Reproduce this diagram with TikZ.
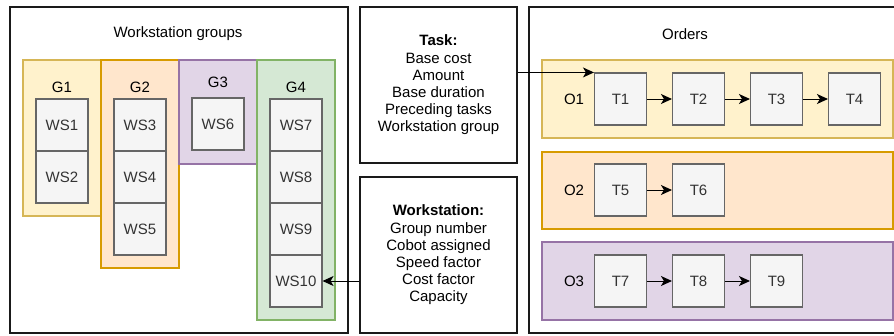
\documentclass[tikz,border=0pt]{standalone}
\usepackage{fontspec}
\setmainfont{Liberation Sans}
\usetikzlibrary{arrows.meta}
\definecolor{yfill}{HTML}{FFF2CC}\definecolor{ydraw}{HTML}{D6B656}
\definecolor{ofill}{HTML}{FFE6CC}\definecolor{odraw}{HTML}{D79B00}
\definecolor{pfill}{HTML}{E1D5E7}\definecolor{pdraw}{HTML}{9673A6}
\definecolor{gfill}{HTML}{D5E8D4}\definecolor{gdraw}{HTML}{82B366}
\definecolor{boxfill}{HTML}{F5F5F5}\definecolor{boxdraw}{HTML}{666666}
\definecolor{boxtext}{HTML}{333333}\definecolor{outer}{HTML}{1A1A1A}
\tikzset{
  panel/.style={draw=outer, line width=1.2pt, fill=white, inner sep=0pt},
  grp/.style={line width=1.1pt, inner sep=0pt},
  cell/.style={draw=boxdraw, fill=boxfill, line width=1.1pt, text=boxtext,
    minimum width=52pt, minimum height=52pt, inner sep=0pt, font=\fontsize{15}{17}\selectfont},
  lbl/.style={inner sep=0pt, font=\fontsize{15}{17}\selectfont},
  info/.style={inner sep=0pt, align=center, font=\fontsize{15}{17.2}\selectfont},
  conn/.style={line width=1pt, -{Stealth[length=11pt,width=10pt,inset=3pt]}},
}
\begin{document}
\begin{tikzpicture}[x=1pt,y=-1pt]
\useasboundingbox (0,0) rectangle (894,335);
\clip (0,0) rectangle (894,335);
\fill[white] (0,0) rectangle (894,335);

% ---------- left panel ----------
\node[panel, minimum width=338pt, minimum height=326pt] (left) at (179,170) {};
\node[lbl] (lefttitle) at (178,34) {Workstation groups};

\node[grp, draw=ydraw, fill=yfill, minimum width=78pt, minimum height=156pt] (g1) at (62,138) {};
\node[grp, draw=odraw, fill=ofill, minimum width=78pt, minimum height=208pt] (g2) at (140,164) {};
\node[grp, draw=pdraw, fill=pfill, minimum width=78pt, minimum height=104pt] (g3) at (218,112) {};
\node[grp, draw=gdraw, fill=gfill, minimum width=78pt, minimum height=260pt] (g4) at (296,190) {};

\node[lbl] (g1l) at (62,87) {G1};
\node[lbl] (g2l) at (140,87) {G2};
\node[lbl] (g3l) at (218,82) {G3};
\node[lbl] (g4l) at (296,87) {G4};

\node[cell] (ws1) at (62,125) {WS1};
\node[cell] (ws2) at (62,177) {WS2};
\node[cell] (ws3) at (140,125) {WS3};
\node[cell] (ws4) at (140,177) {WS4};
\node[cell] (ws5) at (140,229) {WS5};
\node[cell] (ws6) at (218,124) {WS6};
\node[cell] (ws7) at (296,125) {WS7};
\node[cell] (ws8) at (296,177) {WS8};
\node[cell] (ws9) at (296,229) {WS9};
\node[cell] (ws10) at (296,281) {WS10};

% ---------- middle ----------
\node[panel, minimum width=157pt, minimum height=156pt] (task) at (438.5,85) {};
\node[info] (tasktext) at (438.5,85) {\textbf{Task:}\\Base cost\\Amount\\Base duration\\Preceding tasks\\Workstation group};
\node[panel, minimum width=157pt, minimum height=156pt] (ws) at (438.5,255) {};
\node[info] (wstext) at (438.5,255) {\textbf{Workstation:}\\Group number\\Cobot assigned\\Speed factor\\Cost factor\\Capacity};

% ---------- right panel ----------
\node[panel, minimum width=372pt, minimum height=326pt] (right) at (715,170) {};
\node[lbl] (righttitle) at (685,34) {Orders};

\node[grp, draw=ydraw, fill=yfill, minimum width=351pt, minimum height=78pt] (o1) at (717.5,99) {};
\node[grp, draw=odraw, fill=ofill, minimum width=351pt, minimum height=77pt] (o2) at (717.5,190.5) {};
\node[grp, draw=pdraw, fill=pfill, minimum width=351pt, minimum height=78pt] (o3) at (717.5,281) {};

\node[lbl] (o1l) at (574,99) {O1};
\node[lbl] (o2l) at (574,190) {O2};
\node[lbl] (o3l) at (574,281) {O3};

\node[cell] (t1) at (620.5,99) {T1};
\node[cell] (t2) at (698.5,99) {T2};
\node[cell] (t3) at (776.5,99) {T3};
\node[cell] (t4) at (854.5,99) {T4};
\node[cell] (t5) at (620.5,190) {T5};
\node[cell] (t6) at (698.5,190) {T6};
\node[cell] (t7) at (620.5,281) {T7};
\node[cell] (t8) at (698.5,281) {T8};
\node[cell] (t9) at (776.5,281) {T9};

% ---------- connectors ----------
\draw[conn] (t1) -- (t2);
\draw[conn] (t2) -- (t3);
\draw[conn] (t3) -- (t4);
\draw[conn] (t5) -- (t6);
\draw[conn] (t7) -- (t8);
\draw[conn] (t8) -- (t9);
\draw[conn] (t1.north west -| task.east) -- (t1.north west);
\draw[conn] (ws10.east -| ws.west) -- (ws10.east);
\end{tikzpicture}
\end{document}
